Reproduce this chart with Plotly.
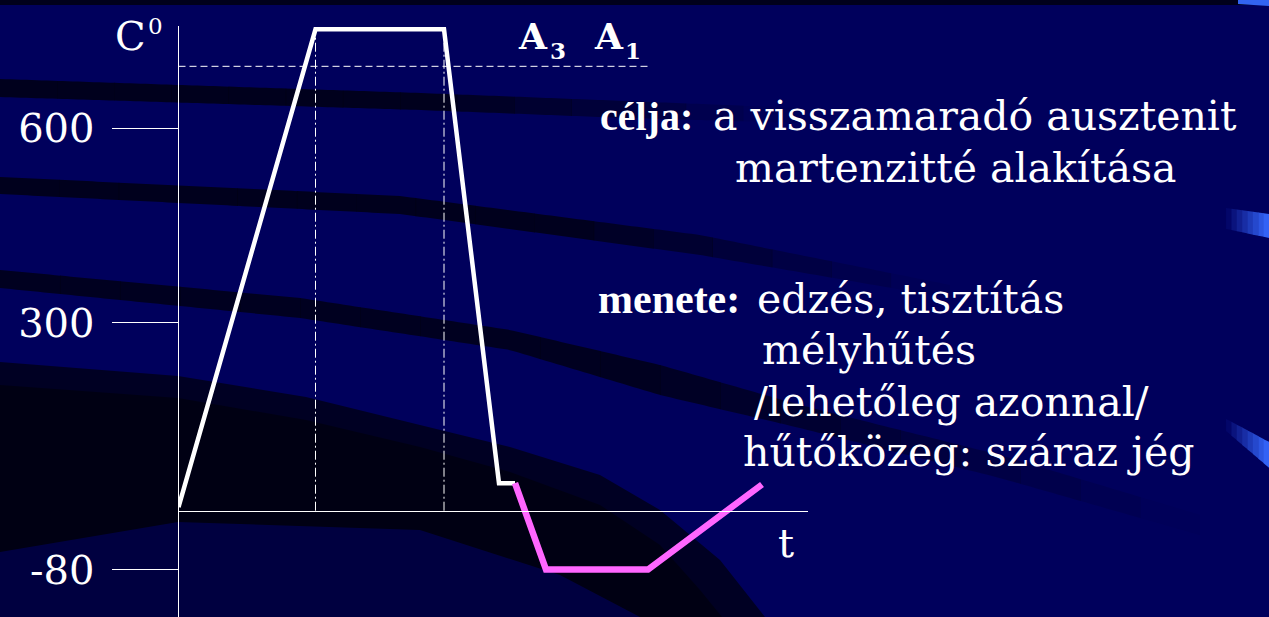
import numpy as np
import plotly.graph_objects as go

# ---------------- data ----------------
# heat treatment: heating, holding above A3, quenching (white line)
time_hardening = [0, 13.7, 26.55, 32.05, 33.65]
temp_hardening = [16, 752, 752, 53, 53]
# deep cooling with dry ice (magenta line)
time_cryo = [33.65, 36.75, 46.95, 58.35]
temp_cryo = [53, -80, -80, 51]
# A3 reference temperature and holding-phase markers
a3_temp = 695
a3_time_end = 46.95
hold_times = [13.7, 26.55]
base_temp = 10.6          # temperature level where the t axis is drawn
t_axis_end = 62.95
y_tickvals = [600, 300, -80]
y_ticktext = ["600", "300", "-80"]
y_range = [-153.1, 757.1]

W, H = 1269, 617
SERIF = "DejaVu Serif"

fig = go.Figure()

# reference lines
fig.add_trace(go.Scatter(x=[0, a3_time_end], y=[a3_temp, a3_temp], mode="lines",
                         line=dict(color="white", width=1, dash="7px,4px"), hoverinfo="skip"))
for ht in hold_times:
    fig.add_trace(go.Scatter(x=[ht, ht], y=[base_temp, temp_hardening[1]], mode="lines",
                             line=dict(color="white", width=1, dash="9px,3px,2px,3px"),
                             hoverinfo="skip"))
fig.add_trace(go.Scatter(x=time_hardening, y=temp_hardening, mode="lines",
                         line=dict(color="white", width=4.5), hoverinfo="skip"))
fig.add_trace(go.Scatter(x=time_cryo, y=temp_cryo, mode="lines",
                         line=dict(color="#ff66ff", width=6.5), hoverinfo="skip"))

# ---------------- background decoration ----------------
def P(x, y):
    return x / W, 1 - y / H

def poly_path(pts):
    s = []
    for i, (x, y) in enumerate(pts):
        px, py = P(x, y)
        s.append(("M" if i == 0 else "L") + f"{px:.5f},{py:.5f}")
    return " ".join(s) + " Z"

shapes = []

def add_poly(pts, color):
    shapes.append(dict(type="path", path=poly_path(pts), xref="paper", yref="paper",
                       fillcolor=color, line=dict(width=0), layer="below"))

def band(upper, lower, x0, x1, alpha_fn, rgb=(0, 0, 18), nseg=1, n=12):
    ux, uy = zip(*upper)
    lx, ly = zip(*lower)
    edges = np.linspace(x0, x1, nseg + 1)
    for k in range(nseg):
        xs = np.linspace(edges[k], edges[k + 1] + (0.5 if k < nseg - 1 else 0), n)
        u = np.interp(xs, ux, uy)
        l = np.interp(xs, lx, ly)
        pts = list(zip(xs, u)) + list(zip(xs[::-1], l[::-1]))
        a = alpha_fn((edges[k] + edges[k + 1]) / 2)
        add_poly(pts, f"rgba({rgb[0]},{rgb[1]},{rgb[2]},{a:.3f})")

def fade(x_full, x_end, amax):
    def f(x):
        if x <= x_full:
            return amax
        return max(0.0, amax * (x_end - x) / (x_end - x_full))
    return f

# top dark strip
add_poly([(0, 0), (W, 0), (W, 5), (0, 5)], "rgba(0,0,20,0.9)")

# band A
band([(0, 79), (420, 93), (600, 100), (800, 108)],
     [(0, 97), (420, 110), (600, 117), (800, 123)],
     0, 800, fade(430, 800, 0.85), nseg=14)
# band B
band([(0, 177), (400, 196), (700, 235), (950, 285)],
     [(0, 194), (400, 214), (700, 255), (950, 298)],
     0, 950, fade(560, 950, 0.85), nseg=16)
# band C
band([(0, 270), (300, 298), (510, 330), (660, 365), (800, 405), (1000, 455), (1200, 515)],
     [(0, 288), (300, 318), (510, 350), (660, 395), (800, 428), (1000, 478), (1200, 535)],
     0, 1200, fade(650, 1200, 0.8), nseg=20)

# big dark arc (lower left)
upper_big = [(0, 362), (178, 376), (306, 397), (420, 425), (510, 447), (600, 475),
             (660, 510), (720, 560), (765, 617)]
add_poly(upper_big + [(0, 617)], "rgba(0,0,14,0.72)")
inner = [(0, 385), (178, 398), (306, 420), (420, 447), (510, 472), (600, 505),
         (660, 545), (700, 590), (722, 617)]
add_poly(inner + [(0, 617)], "rgba(0,0,8,0.55)")
# lighter navy towards the bottom left
lower_big = [(0, 552), (178, 522), (420, 530), (560, 575), (640, 617)]
add_poly(lower_big + [(0, 617)], "rgba(0,0,84,0.7)")

# blue highlights at the right edge
def highlight(top, bot, nseg=8):
    (xa, ya1), (xb, yb1) = top
    (_, ya2), (_, yb2) = bot
    for k in range(nseg):
        f0, f1 = k / nseg, (k + 1) / nseg
        x0, x1 = xa + (xb - xa) * f0, xa + (xb - xa) * f1 + 0.4
        t0 = ya1 + (yb1 - ya1) * f0
        t1 = ya1 + (yb1 - ya1) * f1
        b0 = ya2 + (yb2 - ya2) * f0
        b1 = ya2 + (yb2 - ya2) * f1
        fm = (f0 + f1) / 2
        r = int(55 * fm)
        g = int(105 * fm)
        b = int(96 + 159 * fm)
        add_poly([(x0, t0), (x1, t1), (x1, b1), (x0, b0)], f"rgb({r},{g},{b})")

highlight([(1226, 208), (W, 214)], [(1226, 229), (W, 238)])
highlight([(1226, 419), (W, 442)], [(1226, 431), (W, 468)])
add_poly([(1238, 0), (W, 0), (W, 6), (1238, 4)], "rgb(50,100,240)")

# ---------------- text ----------------
def ann(text, x, y, size, family=SERIF, xanchor="left", bold=False):
    px, py = P(x, y)
    return dict(text=text, x=px, y=py, xref="paper", yref="paper", showarrow=False,
                xanchor=xanchor, yanchor="middle",
                font=dict(family=family, size=size, color="white",
                          weight="bold" if bold else "normal"))

TS = 41
annotations = [
    ann("C", 113, 36, 40),
    ann("0", 146, 26, 23),
    ann("t", 776, 543, 40),
    ann("A", 516, 36, 36, bold=True),
    ann("3", 548, 50, 23, bold=True),
    ann("A", 592, 36, 36, bold=True),
    ann("1", 623, 50, 23, bold=True),
    ann("célja:", 598, 116, 40, family="Liberation Serif", bold=True),
    ann("a visszamaradó ausztenit", 711, 116, TS),
    ann("martenzitté alakítása", 733, 168, TS),
    ann("menete:", 596, 299, 42, family="Liberation Serif", bold=True),
    ann("edzés, tisztítás", 755, 299, TS),
    ann("mélyhűtés", 760, 350, TS),
    ann("/lehetőleg azonnal/", 752, 402, TS),
    ann("hűtőközeg: száraz jég", 741, 452, TS),
]

y_dom_top = (H - 26) / H
x_pos = y_dom_top * (base_temp - y_range[0]) / (y_range[1] - y_range[0])

fig.update_layout(
    width=W, height=H, autosize=False,
    margin=dict(l=0, r=0, t=0, b=0, pad=0),
    paper_bgcolor="#00005c", plot_bgcolor="rgba(0,0,0,0)",
    showlegend=False,
    shapes=shapes,
    annotations=annotations,
    xaxis=dict(domain=[178.5 / W, 808 / W], range=[0, t_axis_end], anchor="free",
               position=x_pos, showline=True, linecolor="white", linewidth=1,
               showgrid=False, zeroline=False, showticklabels=False, ticks=""),
    yaxis=dict(domain=[0, y_dom_top], range=y_range, anchor="x",
               showline=True, linecolor="white", linewidth=1,
               showgrid=False, zeroline=False,
               tickmode="array", tickvals=y_tickvals, ticktext=y_ticktext,
               ticks="outside", ticklen=66, tickwidth=1, tickcolor="white",
               ticklabelstandoff=9,
               tickfont=dict(family=SERIF, size=40, color="white")),
)

fig.write_html("out.html",
               config={"displayModeBar": False},
               post_script="document.body.style.margin='0px';"
                           "document.body.style.overflow='hidden';"
                           "document.body.style.background='#00005c';")
